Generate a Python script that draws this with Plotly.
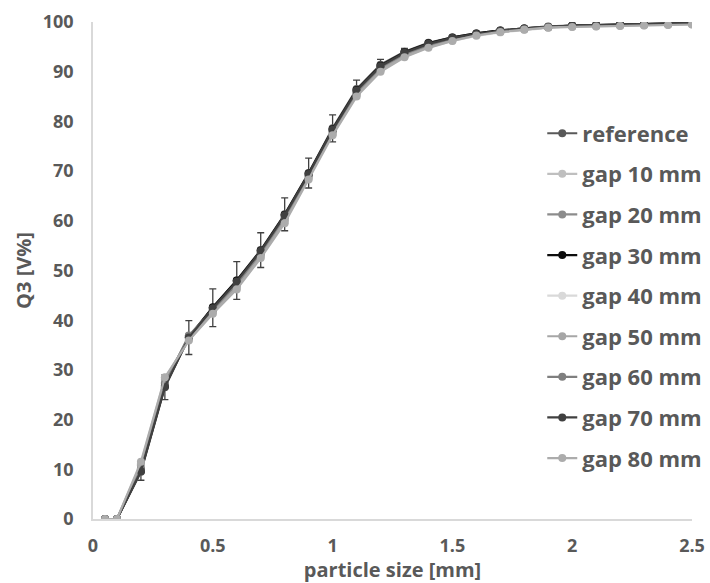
import plotly.graph_objects as go

particle_size = [0.05, 0.1, 0.2, 0.3, 0.4, 0.5, 0.6, 0.7, 0.8, 0.9, 1.0, 1.1, 1.2,
                 1.3, 1.4, 1.5, 1.6, 1.7, 1.8, 1.9, 2.0, 2.1, 2.2, 2.3, 2.4, 2.5]

reference = [0, 0, 9.5, 26.5, 36.5, 42.5, 48.0, 54.1, 61.3, 69.6, 78.6, 86.5, 91.4,
             94.0, 95.8, 96.9, 97.7, 98.3, 98.7, 99.1, 99.3, 99.4, 99.5, 99.6, 99.7, 99.8]
reference_err = [0, 0, 1.7, 2.5, 3.4, 3.8, 3.8, 3.5, 3.3, 3.0, 2.7, 1.8, 1.1,
                 0.7, 0.4, 0.3, 0.2, 0.1, 0.1, 0.1, 0.05, 0.05, 0.05, 0.05, 0.05, 0.05]
gap10 = [0, 0, 11.0, 28.2, 36.2, 41.6, 46.6, 52.9, 60.0, 68.7, 77.5, 85.3, 90.3,
         93.1, 95.0, 96.3, 97.3, 98.0, 98.5, 98.9, 99.1, 99.2, 99.3, 99.4, 99.5, 99.6]
gap20 = [0, 0, 10.2, 27.4, 36.8, 42.0, 47.2, 53.4, 60.6, 69.1, 78.0, 85.8, 90.8,
         93.5, 95.3, 96.6, 97.5, 98.1, 98.6, 98.9, 99.2, 99.3, 99.4, 99.5, 99.6, 99.7]
gap30 = [0, 0, 9.8, 26.8, 36.6, 42.6, 48.0, 54.0, 61.2, 69.5, 78.4, 86.3, 91.2,
         93.9, 95.7, 96.9, 97.7, 98.3, 98.7, 99.0, 99.3, 99.4, 99.5, 99.6, 99.7, 99.8]
gap40 = [0, 0, 11.2, 28.4, 36.0, 41.4, 46.4, 52.7, 59.8, 68.5, 77.4, 85.2, 90.2,
         93.0, 94.9, 96.2, 97.2, 97.9, 98.4, 98.8, 99.0, 99.1, 99.2, 99.3, 99.4, 99.5]
gap50 = [0, 0, 10.8, 28.0, 36.3, 41.7, 46.8, 53.0, 60.1, 68.8, 77.6, 85.4, 90.4,
         93.2, 95.1, 96.4, 97.4, 98.0, 98.5, 98.9, 99.1, 99.2, 99.3, 99.4, 99.5, 99.6]
gap60 = [0, 0, 10.0, 27.2, 36.9, 42.1, 47.4, 53.6, 60.8, 69.2, 78.1, 85.9, 90.9,
         93.6, 95.4, 96.7, 97.5, 98.2, 98.6, 99.0, 99.2, 99.3, 99.4, 99.5, 99.6, 99.7]
gap70 = [0, 0, 9.6, 26.6, 36.5, 42.4, 47.8, 53.9, 61.1, 69.4, 78.3, 86.2, 91.1,
         93.8, 95.6, 96.8, 97.6, 98.2, 98.7, 99.0, 99.3, 99.4, 99.5, 99.6, 99.7, 99.8]
gap80 = [0, 0, 11.5, 28.5, 35.9, 41.3, 46.2, 52.5, 59.5, 68.3, 77.2, 85.0, 90.0,
         92.9, 94.8, 96.2, 97.3, 98.0, 98.5, 98.9, 99.0, 99.1, 99.2, 99.3, 99.4, 99.5]

series_names = ["reference", "gap 10 mm", "gap 20 mm", "gap 30 mm", "gap 40 mm",
                "gap 50 mm", "gap 60 mm", "gap 70 mm", "gap 80 mm"]
series_values = [reference, gap10, gap20, gap30, gap40, gap50, gap60, gap70, gap80]
series_colors = ["#595959", "#bfbfbf", "#8c8c8c", "#0d0d0d", "#d9d9d9",
                 "#a6a6a6", "#7f7f7f", "#404040", "#acacac"]

x_ticks = [0, 0.5, 1, 1.5, 2, 2.5]
x_ticklabels = ["0", "0.5", "1", "1.5", "2", "2.5"]
y_ticks = [0, 10, 20, 30, 40, 50, 60, 70, 80, 90, 100]

FONT = "Open Sans"
TXT = "#595959"

fig = go.Figure()
for i, (name, vals, col) in enumerate(zip(series_names, series_values, series_colors)):
    kw = {}
    if name == "reference":
        kw["error_y"] = dict(type="data", array=reference_err, visible=True,
                             color="#404040", thickness=1.3, width=3.5)
    fig.add_trace(go.Scatter(
        x=particle_size, y=vals, name=name, mode="lines+markers",
        line=dict(color=col, width=2.2),
        marker=dict(color=col, size=8, symbol="circle"),
        legendgroup=name,
        **kw))

fig.update_layout(
    width=710, height=583,
    margin=dict(l=93, r=3, t=22, b=64),
    paper_bgcolor="white", plot_bgcolor="white",
    font=dict(family=FONT, color=TXT),
    showlegend=True,
    legend=dict(x=0.75, xanchor="left", y=0.818, yanchor="top",
                font=dict(family=FONT, size=22, color=TXT, weight="bold"),
                bgcolor="rgba(0,0,0,0)", tracegroupgap=9,
                itemwidth=30),
    xaxis=dict(range=[0, 2.5], tickvals=x_ticks, ticktext=x_ticklabels,
               showgrid=False, zeroline=False, showline=True,
               linecolor="#d9d9d9", linewidth=1.5, ticks="",
               ticklabelstandoff=10,
               tickfont=dict(family=FONT, size=18, color=TXT, weight="bold"),
               title=dict(text="particle size [mm]", standoff=2,
                          font=dict(family=FONT, size=20, color=TXT, weight="bold"))),
    yaxis=dict(range=[0, 100], tickvals=y_ticks,
               showgrid=False, zeroline=False, showline=True,
               linecolor="#d9d9d9", linewidth=1.5, ticks="",
               ticklabelstandoff=14,
               tickfont=dict(family=FONT, size=18, color=TXT, weight="bold"),
               title=dict(text="Q3 [V%]", standoff=6,
                          font=dict(family=FONT, size=20, color=TXT, weight="bold"))),
)

fig.write_html("out.html")
